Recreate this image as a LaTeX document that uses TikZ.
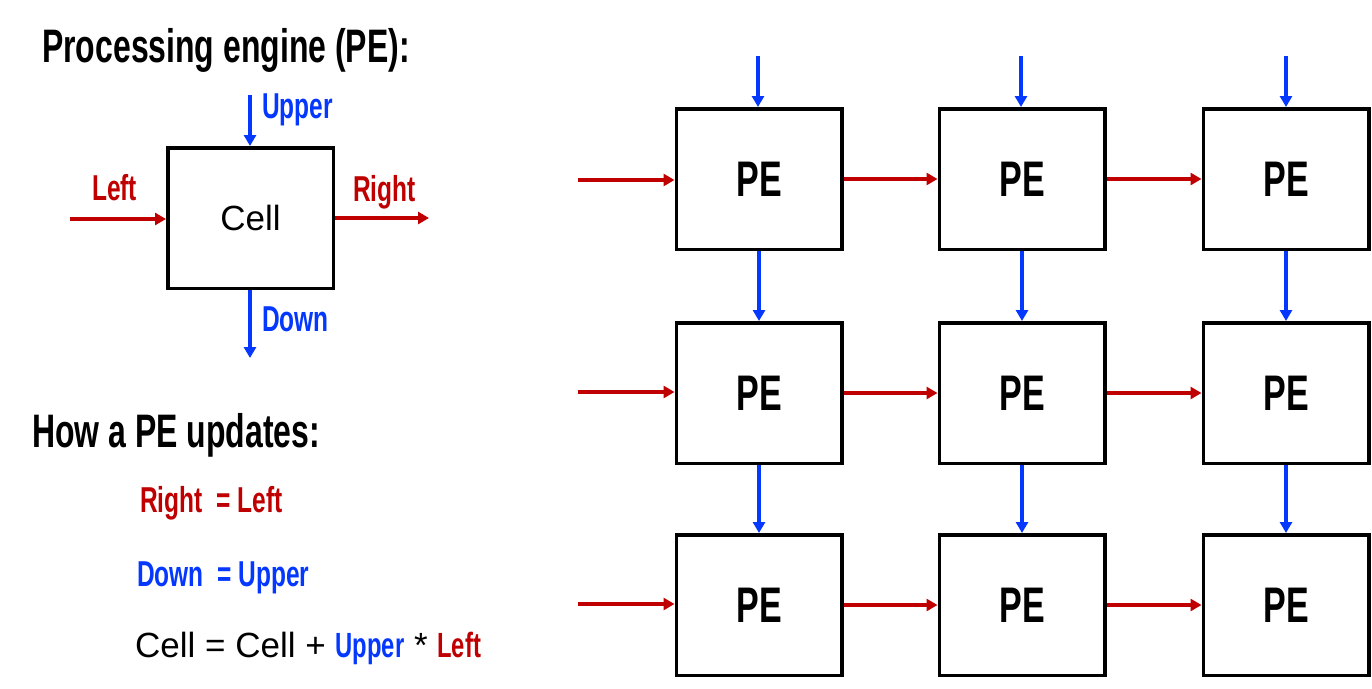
\documentclass[tikz,border=0pt]{standalone}
\usepackage{fontspec}
\setmainfont{Liberation Sans}
\newfontfamily\din[FakeStretch=0.68]{Liberation Sans}
\usetikzlibrary{arrows.meta}
\definecolor{myred}{RGB}{192,0,0}
\definecolor{myblue}{RGB}{5,56,255}
\begin{document}
\begin{tikzpicture}[x=1pt,y=-1pt,
  box/.style={draw=black,line width=3.5pt,minimum width=165.5pt,minimum height=140.5pt,inner sep=0pt},
  pe/.style={box,font=\din\bfseries\fontsize{50}{50}\selectfont},
  harr/.style={draw=myred,line width=3.5pt,-{Triangle[length=11pt,width=12pt]}},
  varr/.style={draw=myblue,line width=3.5pt,-{Triangle[length=11pt,width=12pt]}},
  lbl/.style={inner sep=0pt,anchor=base west,font=\din\bfseries\fontsize{36}{36}\selectfont},
  ttl/.style={inner sep=0pt,anchor=base west,font=\din\bfseries\fontsize{47}{48}\selectfont},
  reg/.style={inner sep=0pt,anchor=base west,font=\fontsize{35}{36}\selectfont}]
\useasboundingbox[fill=white] (0,0) rectangle (1372,688);
% title
\node[ttl] (t1) at (42,62) {Processing engine (PE):};
% cell
\node[box,font=\fontsize{35}{36}\selectfont] (cell) at (250.5,218) {Cell};
\coordinate (cu) at (250,95);
\coordinate (cd) at (250,358);
\coordinate (cl) at (70,219);
\coordinate (cr) at (429,218);
\draw[varr] (cu) -- (cu|-cell.north);
\draw[varr] (cd|-cell.south) -- (cd);
\draw[harr] (cl) -- (cl-|cell.west);
\draw[harr] (cr-|cell.east) -- (cr);
\node[lbl,text=myblue] (lu) at (262,118) {Upper};
\node[lbl,text=myred] (ll) at (92,200) {Left};
\node[lbl,text=myred] (lr) at (353,201) {Right};
\node[lbl,text=myblue] (ld) at (262,331) {Down};
% updates
\node[ttl] (t2) at (32,447) {How a PE updates:};
\node[lbl,text=myred] (e1) at (140,512) {Right~~= Left};
\node[lbl,text=myblue] (e2) at (137,586) {Down~~= Upper};
\node[reg] (e3) at (135,657) {Cell = Cell + \textcolor{myblue}{\din\bfseries Upper} * \textcolor{myred}{\din\bfseries Left}};
% grid
\foreach \r/\y in {1/179,2/393,3/605}{
  \foreach \c/\x in {1/759,2/1022,3/1286}{
    \node[pe] (p\r\c) at (\x,\y) {PE};
  }
}
\foreach \c/\x in {1/758,2/1021,3/1286}{
  \coordinate (top\c) at (\x,56);
  \draw[varr] (top\c) -- (top\c|-p1\c.north);
  \draw[varr] (p1\c.south) -- (p2\c.north);
  \draw[varr] (p2\c.south) -- (p3\c.north);
}
\foreach \r/\y in {1/180,2/392,3/604}{
  \coordinate (in\r) at (578,\y);
  \draw[harr] (in\r) -- (in\r-|p\r1.west);
  \draw[harr] (p\r1.east) -- (p\r2.west);
  \draw[harr] (p\r2.east) -- (p\r3.west);
}
\end{tikzpicture}
\end{document}
